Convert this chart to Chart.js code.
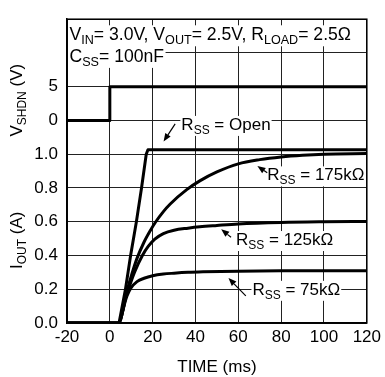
<!DOCTYPE html>
<html><head><meta charset="utf-8">
<script src="https://cdn.jsdelivr.net/npm/chart.js@4.4.1/dist/chart.umd.min.js"></script>
<style>html,body{margin:0;padding:0;background:#fff}</style>
</head><body>
<canvas id="c" width="385" height="377"></canvas>
<script>
// ---- data ----
const timeShdn = [-20, 0, 0, 120];
const vShdn    = [0, 0, 5, 5];

const timeOpen = [-20, 4.3, 5.5, 7.3, 9.7, 12.4, 14.8, 17.0, 17.8, 120];
const iOpen    = [0, 0, 0.08, 0.2, 0.4, 0.6, 0.8, 1.0, 1.027, 1.027];

const time175 = [-20, 4.3, 6, 7, 8.3, 10.3, 12.6, 16, 19, 21.3, 25, 28.2, 35.9, 42, 50, 60, 70, 80, 90, 100, 120];
const i175    = [0, 0, 0.07, 0.13, 0.2, 0.29, 0.38, 0.48, 0.55, 0.597, 0.66, 0.705, 0.79, 0.842, 0.895, 0.943, 0.968, 0.984, 0.994, 1.0, 1.004];

const time125 = [-20, 4.3, 6, 7, 8.7, 11.5, 15.2, 18, 21, 25, 30, 36.5, 42, 50, 60, 80, 100, 120];
const i125    = [0, 0, 0.07, 0.13, 0.2, 0.3, 0.4, 0.455, 0.497, 0.53, 0.55, 0.562, 0.57, 0.578, 0.587, 0.596, 0.6, 0.602];

const time75 = [-20, 4.3, 6, 7, 8, 9.7, 12.7, 16, 20, 25, 30, 36.5, 43.5, 60, 80, 120];
const i75    = [0, 0, 0.07, 0.12, 0.16, 0.205, 0.245, 0.265, 0.28, 0.29, 0.295, 0.3, 0.303, 0.307, 0.309, 0.31];

const xTicks = [-20, 0, 20, 40, 60, 80, 100, 120];
const iTickLabels = ['0.0', '0.2', '0.4', '0.6', '0.8', '1.0'];
const vTickLabels = ['0', '5'];

// ---- helpers ----
const FAM = "'Liberation Sans', Arial, Helvetica, sans-serif";
const pts = (xs, ys) => xs.map((x, i) => ({x: x, y: ys[i]}));

function richWidth(ctx, parts, m, s) {
  let w = 0;
  for (const [t, sub] of parts) { ctx.font = (sub ? s : m) + 'px ' + FAM; w += ctx.measureText(t).width; }
  return w;
}
function drawRich(ctx, parts, x, y, m, s) {
  let cx = x;
  for (const [t, sub] of parts) {
    ctx.font = (sub ? s : m) + 'px ' + FAM;
    ctx.fillText(t, cx, y + (sub ? 4 : 0));
    cx += ctx.measureText(t).width;
  }
}
function arrow(ctx, x1, y1, x2, y2) {
  ctx.save();
  ctx.strokeStyle = '#000'; ctx.fillStyle = '#000'; ctx.lineWidth = 1.2;
  const a = Math.atan2(y2 - y1, x2 - x1);
  const L = 8, W = 3.2;
  const bx = x2 - L * Math.cos(a), by = y2 - L * Math.sin(a);
  ctx.beginPath(); ctx.moveTo(x1, y1); ctx.lineTo(bx, by); ctx.stroke();
  ctx.beginPath();
  ctx.moveTo(x2, y2);
  ctx.lineTo(bx + W * Math.sin(a), by - W * Math.cos(a));
  ctx.lineTo(bx - W * Math.sin(a), by + W * Math.cos(a));
  ctx.closePath(); ctx.fill();
  ctx.restore();
}

const notes = [
  {parts: [['R',0],['SS',1],[' = Open',0]], t: 33.4, i: 1.144, tail: [30.5, 1.18], head: [25.1, 1.075]},
  {parts: [['R',0],['SS',1],[' = 175k\u03A9',0]], t: 73.5, i: 0.845, tail: [73.5, 0.89], head: [68.9, 0.93]},
  {parts: [['R',0],['SS',1],[' = 125k\u03A9',0]], t: 58.9, i: 0.462, tail: [56.6, 0.508], head: [52.0, 0.555]},
  {parts: [['R',0],['SS',1],[' = 75k\u03A9',0]], t: 66.6, i: 0.167, tail: [63.5, 0.161], head: [55.4, 0.266]}
];

const textPlugin = {
  id: 'texts',
  beforeDatasetsDraw(chart) {
    const {ctx, chartArea: ca, scales} = chart;
    const xs = scales.x, ys = scales.y;
    ctx.save();
    ctx.strokeStyle = '#000'; ctx.lineWidth = 1.5;
    ctx.strokeRect(ca.left, ca.top, ca.right - ca.left, ca.bottom - ca.top);
    ctx.textBaseline = 'alphabetic'; ctx.textAlign = 'left';
    // condition text
    const l1 = [['V',0],['IN',1],['= 3.0V, V',0],['OUT',1],['= 2.5V, R',0],['LOAD',1],['= 2.5\u03A9',0]];
    const l2 = [['C',0],['SS',1],['= 100nF',0]];
    const M = 17.6, S = 12.6;
    const x0 = ca.left + 2.5;
    const b1 = ys.getPixelForValue(1.675), b2 = ys.getPixelForValue(1.547);
    ctx.fillStyle = '#fff';
    ctx.fillRect(ca.left + 1, b1 - 15, richWidth(ctx, l1, M, S) + 3, 21);
    ctx.fillRect(ca.left + 1, b2 - 16, richWidth(ctx, l2, M, S) + 3, 22);
    ctx.fillStyle = '#000';
    drawRich(ctx, l1, x0, b1, M, S);
    drawRich(ctx, l2, x0, b2, M, S);
    // curve labels
    for (const n of notes) {
      const x = xs.getPixelForValue(n.t), y = ys.getPixelForValue(n.i);
      const w = richWidth(ctx, n.parts, 17, 12);
      ctx.fillStyle = '#fff';
      ctx.fillRect(x - 1, y - 14, w + 2, 20);
      ctx.fillStyle = '#000';
      drawRich(ctx, n.parts, x, y, 17, 12);
      arrow(ctx, xs.getPixelForValue(n.tail[0]), ys.getPixelForValue(n.tail[1]),
                 xs.getPixelForValue(n.head[0]), ys.getPixelForValue(n.head[1]));
    }
    ctx.restore();
  },
  afterDraw(chart) {
    const {ctx, chartArea: ca, scales} = chart;
    const ys = scales.y;
    ctx.save();
    ctx.fillStyle = '#000'; ctx.textBaseline = 'alphabetic'; ctx.textAlign = 'left';
    ctx.font = '17px ' + FAM;
    const tt = 'TIME (ms)';
    ctx.fillText(tt, (ca.left + ca.right) / 2 - ctx.measureText(tt).width / 2, 372);
    const titles = [
      {parts: [['V',0],['SHDN',1],[' (V)',0]], c: ys.getPixelForValue(1.32)},
      {parts: [['I',0],['OUT',1],[' (A)',0]], c: ys.getPixelForValue(0.49)}
    ];
    for (const t of titles) {
      const w = richWidth(ctx, t.parts, 17, 12);
      ctx.save();
      ctx.translate(21.5, t.c);
      ctx.rotate(-Math.PI / 2);
      drawRich(ctx, t.parts, -w / 2, 0, 17, 12);
      ctx.restore();
    }
    ctx.restore();
  }
};

const lineStyle = {borderColor: '#000', borderWidth: 3, pointRadius: 0, fill: false,
  borderJoinStyle: 'round', borderCapStyle: 'butt'};

new Chart(document.getElementById('c'), {
  type: 'line',
  data: {
    datasets: [
      Object.assign({label: 'VSHDN', data: pts(timeShdn, vShdn), yAxisID: 'y2', tension: 0}, lineStyle),
      Object.assign({label: 'Open', data: pts(timeOpen, iOpen), yAxisID: 'y', tension: 0}, lineStyle),
      Object.assign({label: '175k', data: pts(time175, i175), yAxisID: 'y', cubicInterpolationMode: 'monotone'}, lineStyle),
      Object.assign({label: '125k', data: pts(time125, i125), yAxisID: 'y', cubicInterpolationMode: 'monotone'}, lineStyle),
      Object.assign({label: '75k', data: pts(time75, i75), yAxisID: 'y', cubicInterpolationMode: 'monotone'}, lineStyle)
    ]
  },
  options: {
    responsive: false, animation: false, devicePixelRatio: 1,
    layout: {padding: {top: 10, right: 14, left: 0, bottom: 0}},
    plugins: {legend: {display: false}, tooltip: {enabled: false}},
    scales: {
      x: {
        type: 'linear', min: xTicks[0], max: xTicks[xTicks.length - 1],
        afterBuildTicks: s => { s.ticks = xTicks.map(v => ({value: v})); },
        ticks: {font: {size: 17, family: FAM}, color: '#000', padding: 4, maxRotation: 0, autoSkip: false},
        grid: {color: '#222', lineWidth: 1, drawTicks: false},
        border: {display: true, color: '#000', width: 1.5},
        afterFit: s => { s.height = 54; }
      },
      y: {
        type: 'linear', min: 0, max: 1.8,
        ticks: {
          stepSize: 0.2, font: {size: 17, family: FAM}, color: '#000', padding: 9, autoSkip: false,
          callback: v => {
            const k = Math.round(v * 5);
            if (k <= 5) return iTickLabels[k];
            if (k === 6) return vTickLabels[0];
            if (k === 7) return vTickLabels[1];
            return '';
          }
        },
        grid: {color: '#222', lineWidth: 1, drawTicks: false},
        border: {display: true, color: '#000', width: 1.5},
        afterFit: s => { s.width = 67; }
      },
      y2: {type: 'linear', display: false, min: -30, max: 15}
    }
  },
  plugins: [textPlugin]
});
</script>
</body></html>
